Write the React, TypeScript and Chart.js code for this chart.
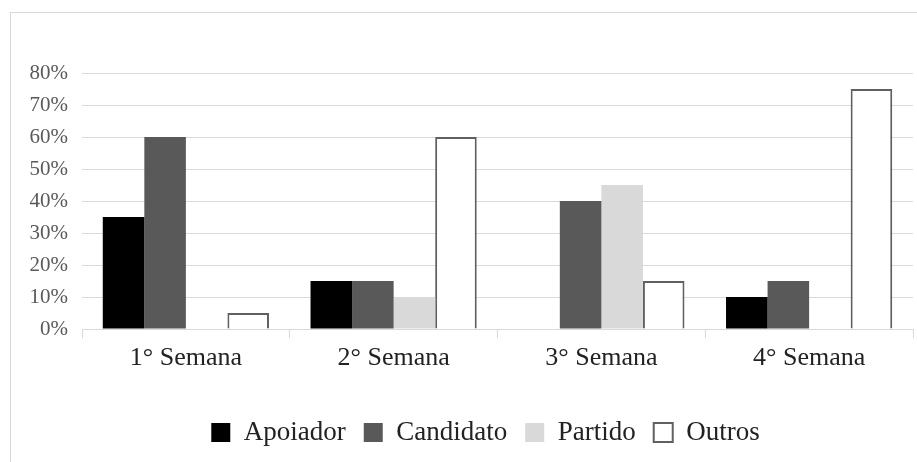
import React, { useEffect, useRef } from "react";
import { Chart, registerables } from "chart.js";

Chart.register(...registerables);

const categories = ["1° Semana", "2° Semana", "3° Semana", "4° Semana"];
const apoiador = [35, 15, 0, 10];
const candidato = [60, 15, 40, 15];
const partido = [0, 10, 45, 0];
const outros = [5, 60, 15, 75];
const yTicks = [0, 10, 20, 30, 40, 50, 60, 70, 80];

const FONT = "'Liberation Serif', 'Times New Roman', serif";

const shiftLegend = {
  id: "shiftLegend",
  afterLayout(chart: any) {
    const l = chart.legend;
    if (l) {
      l.left -= 12;
      l.right -= 12;
    }
  },
};

export default function App() {
  const ref = useRef<HTMLCanvasElement | null>(null);

  useEffect(() => {
    if (!ref.current) return;
    const barOpts = { categoryPercentage: 0.8, barPercentage: 1 };
    const chart = new Chart(ref.current, {
      type: "bar",
      data: {
        labels: categories,
        datasets: [
          { label: "Apoiador", data: apoiador, backgroundColor: "#000000", borderWidth: 0, ...barOpts },
          { label: "Candidato", data: candidato, backgroundColor: "#595959", borderWidth: 0, ...barOpts },
          { label: "Partido", data: partido, backgroundColor: "#d9d9d9", borderWidth: 0, ...barOpts },
          { label: "Outros", data: outros, backgroundColor: "#ffffff", borderColor: "#606060", borderWidth: 2, ...barOpts },
        ],
      },
      plugins: [shiftLegend],
      options: {
        responsive: false,
        animation: false,
        devicePixelRatio: 1,
        layout: { padding: { left: 0, right: 4, top: 73, bottom: 6 } },
        plugins: {
          tooltip: { enabled: false },
          title: { display: false },
          legend: {
            display: true,
            position: "bottom",
            fullSize: false,
            labels: {
              boxWidth: 19,
              boxHeight: 19,
              padding: 18,
              color: "#222222",
              font: { family: FONT, size: 27 },
            },
          },
        },
        scales: {
          x: {
            offset: true,
            grid: {
              offset: true,
              drawOnChartArea: false,
              drawTicks: true,
              tickLength: 9,
              color: "#d9d9d9",
              lineWidth: 1,
            },
            border: { display: true, color: "#d9d9d9", width: 1 },
            ticks: {
              padding: 5,
              color: "#222222",
              font: { family: FONT, size: 26 },
              maxRotation: 0,
            },
            afterFit: (s: any) => {
              s.height = 72;
            },
          },
          y: {
            min: 0,
            max: 80,
            afterBuildTicks: (s: any) => {
              s.ticks = yTicks.map((v) => ({ value: v }));
            },
            grid: { drawTicks: false, color: "#d9d9d9", lineWidth: 1 },
            border: { display: false },
            ticks: {
              padding: 14,
              color: "#595959",
              font: { family: FONT, size: 21 },
              callback: (v: any) => v + "%",
            },
            afterFit: (s: any) => {
              s.width = 82;
            },
          },
        },
      },
    });
    return () => chart.destroy();
  }, []);

  return (
    <div
      style={{
        position: "absolute",
        left: 0,
        top: 0,
        width: 917,
        height: 462,
        overflow: "hidden",
        background: "#ffffff",
      }}
    >
      <div
        style={{
          position: "absolute",
          left: 10,
          top: 12,
          width: 940,
          height: 480,
          border: "1px solid #d9d9d9",
          boxSizing: "border-box",
        }}
      />
      <canvas
        ref={ref}
        width={917}
        height={462}
        style={{ position: "absolute", left: 0, top: 0, width: 917, height: 462 }}
      />
    </div>
  );
}
